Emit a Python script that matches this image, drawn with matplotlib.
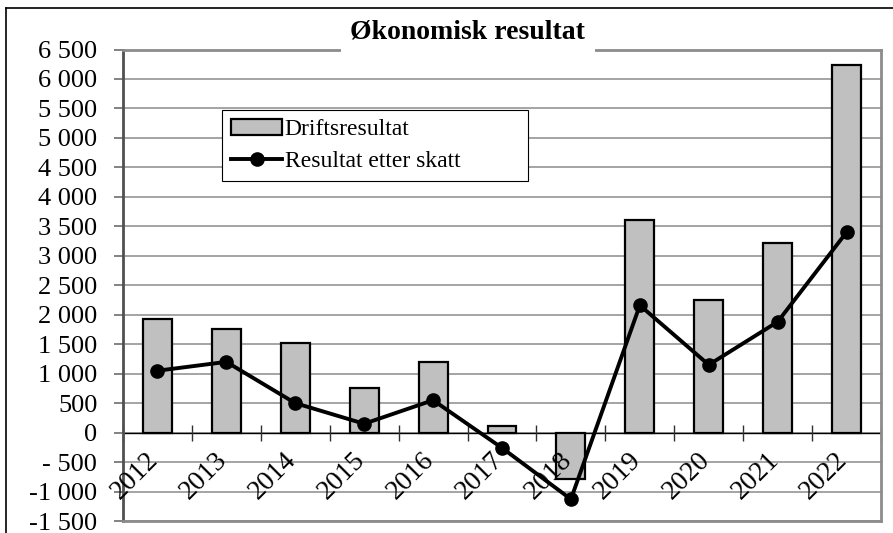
import numpy as np
import matplotlib
matplotlib.use("Agg")
import matplotlib.pyplot as plt
from matplotlib.lines import Line2D
from matplotlib.transforms import offset_copy

plt.rcParams['font.family'] = ['Liberation Serif', 'DejaVu Serif']

# data
years = ['2012', '2013', '2014', '2015', '2016', '2017', '2018', '2019', '2020', '2021', '2022']
driftsresultat = [1930, 1750, 1520, 760, 1190, 120, -790, 3600, 2250, 3220, 6230]
resultat_etter_skatt = [1050, 1200, 500, 150, 550, -260, -1130, 2160, 1150, 1880, 3400]
ytick_values = [6500, 6000, 5500, 5000, 4500, 4000, 3500, 3000, 2500, 2000,
                1500, 1000, 500, 0, -500, -1000, -1500]
ytick_labels = ['6 500', '6 000', '5 500', '5 000', '4 500', '4 000', '3 500', '3 000',
                '2 500', '2 000', '1 500', '1 000', '500', '0', '- 500', '-1 000', '-1 500']

fig = plt.figure(figsize=(8.93, 5.33), dpi=100)
ax = fig.add_axes([0.1377, 0.0225, 0.8489, 0.8846])

x = np.arange(len(years))

bars = ax.bar(x, driftsresultat, width=0.42, color='#c0c0c0', edgecolor='black',
              linewidth=1.6, zorder=2, label='Driftsresultat')
line, = ax.plot(x, resultat_etter_skatt, color='black', linewidth=2.8, marker='o',
                markersize=9.5, zorder=4, label='Resultat etter skatt')

ax.set_xlim(-0.5, len(years) - 0.5)
ax.set_ylim(-1500, 6500)

# grid and zero line
ax.set_yticks(ytick_values)
ax.set_yticklabels(ytick_labels, fontsize=19)
ax.yaxis.grid(True, color='#8c8c8c', linewidth=1.1, zorder=0)
ax.set_axisbelow(True)
ax.tick_params(axis='y', length=6.5, width=1.1, color='#606060', pad=12)
ax.set_xticks([])
ax.axhline(0, color='black', linewidth=1.0, zorder=1.5)
ax.plot(np.arange(len(years) + 1) - 0.5, np.zeros(len(years) + 1), linestyle='none',
        marker='|', markersize=11.5, markeredgewidth=1.0, color='#303030', zorder=1.5,
        clip_on=False)

# year labels hanging under the zero line
lab_tr = offset_copy(ax.transData, fig=fig, x=6, y=-15, units='dots')
for xi, yr in zip(x, years):
    ax.text(xi, 0, yr, rotation=45, ha='right', va='top', fontsize=20,
            transform=lab_tr, zorder=3)

for side in ['top', 'right', 'bottom']:
    ax.spines[side].set_color('#8c8c8c')
    ax.spines[side].set_linewidth(2.0)
ax.spines['left'].set_color('#505050')
ax.spines['left'].set_linewidth(2.0)

leg = ax.legend([bars, line], ['Driftsresultat', 'Resultat etter skatt'],
                loc='upper left', bbox_to_anchor=(0.131, 0.704, 0.403, 0.167),
                mode='expand', fontsize=17, frameon=True, fancybox=False,
                framealpha=1, edgecolor='black', handlelength=2.2,
                handletextpad=0.1, borderpad=0.35, labelspacing=0.45,
                borderaxespad=0)
leg.get_frame().set_linewidth(0.8)

fig.text(0.524, 0.940, 'Økonomisk resultat', ha='center', va='center',
         fontsize=20, fontweight='bold',
         bbox=dict(facecolor='white', edgecolor='none', pad=7))

# outer frame (top and left edges visible in the reference)
fig.add_artist(Line2D([0.007, 0.007], [0.0, 0.985], transform=fig.transFigure,
                      color='black', linewidth=1.2, zorder=5))
fig.add_artist(Line2D([0.007, 1.0], [0.985, 0.985], transform=fig.transFigure,
                      color='black', linewidth=1.2, zorder=5))

fig.savefig('out.png', dpi=100)
